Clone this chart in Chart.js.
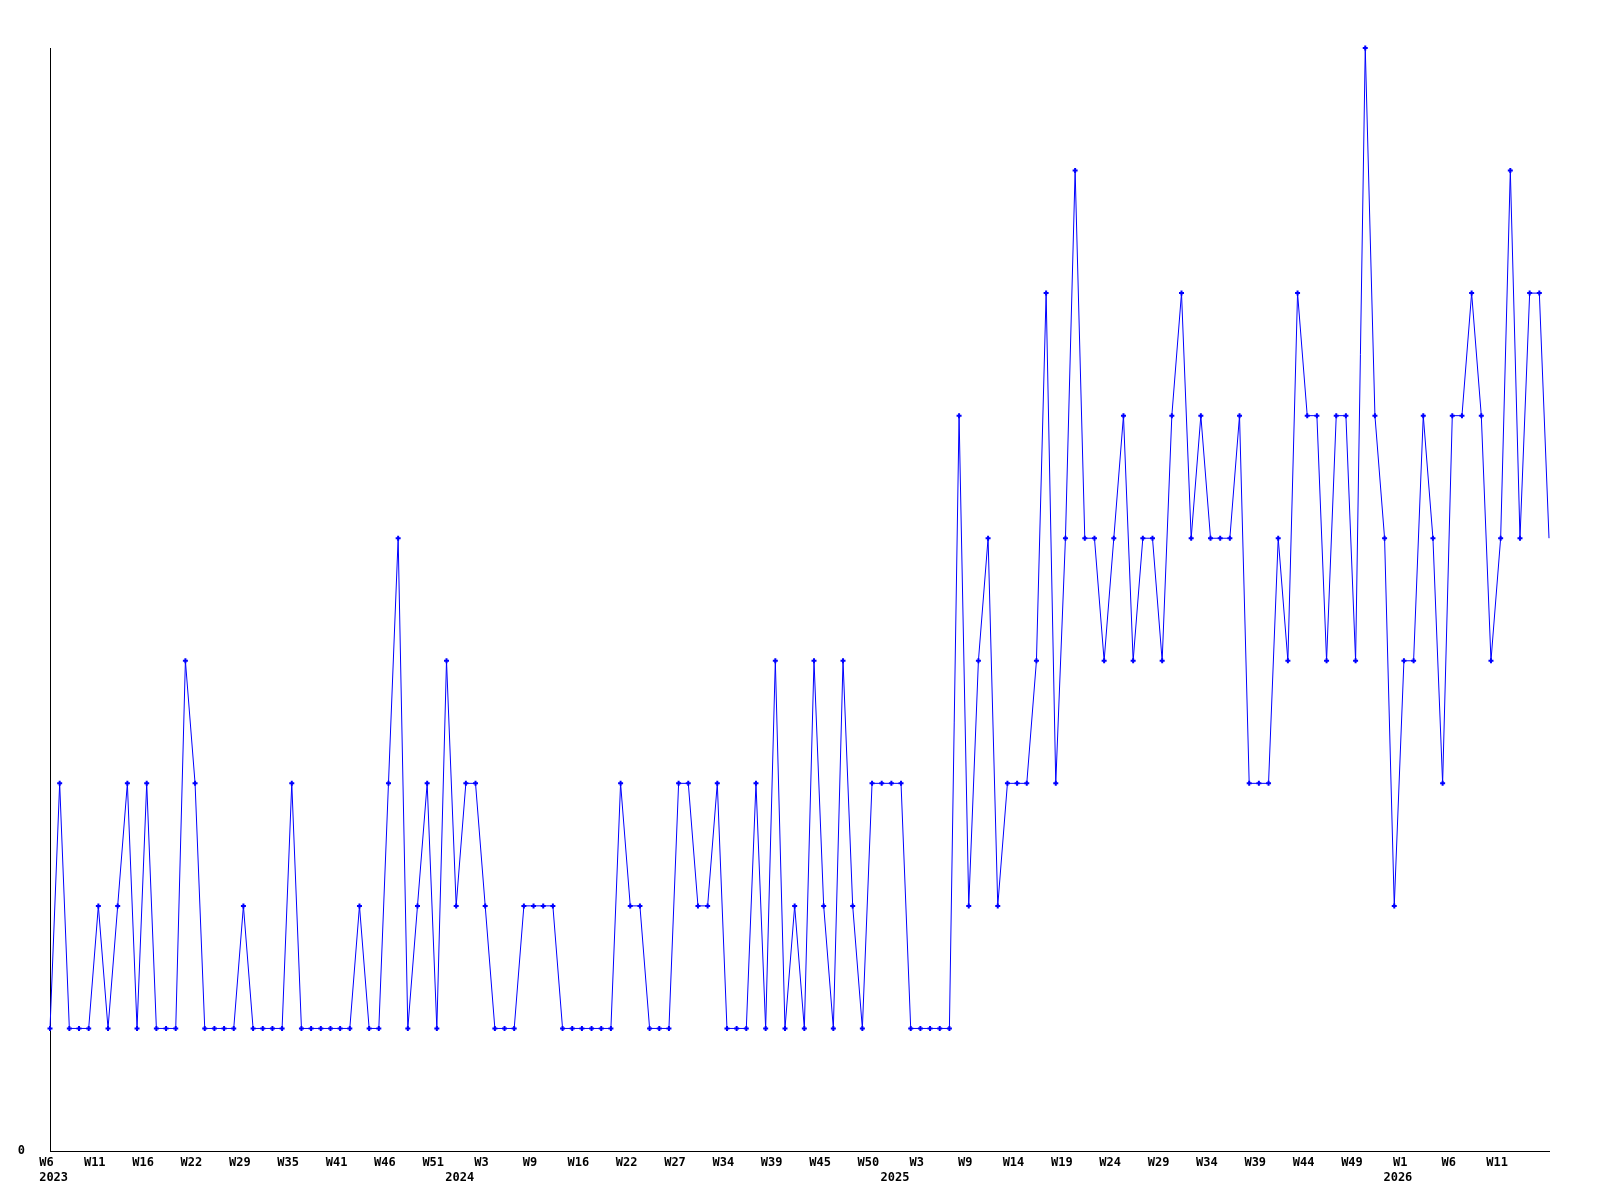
<!DOCTYPE html>
<html>
<head>
<meta charset="utf-8">
<title>weekly counts</title>
<script src="https://cdn.jsdelivr.net/npm/chart.js@4.4.1/dist/chart.umd.min.js"></script>
<style>
  html, body { margin: 0; padding: 0; background: #fff; }
  #dataChart { display: block; }
</style>
</head>
<body>
<canvas id="dataChart" width="1600" height="1200"></canvas>
<script>
// week numbers as they appear on the axis, one list per year (weeks with no data are absent)
const years = [2023, 2024, 2025, 2026];

const weeks2023 = [6, 7, 8, 9, 10, 11, 12, 13, 14, 15, 16, 17, 18, 19, 21, 22, 23, 24, 26, 28, 29,
    30, 31, 32, 34, 35, 36, 37, 38, 40, 41, 42, 43, 44, 45, 46, 47, 48, 49, 50, 51, 52];
const weeks2024 = [0, 1, 2, 3, 4, 5, 6, 8, 9, 10, 11, 13, 14, 16, 17, 18, 19, 21, 22, 23, 24, 25, 26,
    27, 28, 29, 31, 32, 34, 35, 36, 37, 38, 39, 40, 41, 42, 44, 45, 46, 47, 48, 49, 50, 51];
const weeks2025 = [0, 1, 2, 3, 4, 5, 6, 8, 9, 10, 11, 12, 13, 14, 15, 16, 17, 18, 19, 20, 21, 22, 23,
    24, 25, 26, 27, 28, 29, 30, 31, 32, 33, 34, 35, 36, 37, 38, 39, 40, 41, 42, 43, 44, 45, 46, 47,
    48, 49, 50, 51, 52];
const weeks2026 = [0, 1, 2, 3, 4, 5, 6, 7, 8, 9, 10, 11, 12, 13, 14, 15, 16];

// values per week
const counts2023 = [1, 3, 1, 1, 1, 2, 1, 2, 3, 1, 3, 1, 1, 1, 4, 3, 1, 1, 1, 1, 2, 1, 1, 1, 1, 3, 1,
    1, 1, 1, 1, 1, 2, 1, 1, 3, 5, 1, 2, 3, 1, 4];
const counts2024 = [2, 3, 3, 2, 1, 1, 1, 2, 2, 2, 2, 1, 1, 1, 1, 1, 1, 3, 2, 2, 1, 1, 1, 3, 3, 2, 2,
    3, 1, 1, 1, 3, 1, 4, 1, 2, 1, 4, 2, 1, 4, 2, 1, 3, 3];
const counts2025 = [3, 3, 1, 1, 1, 1, 1, 6, 2, 4, 5, 2, 3, 3, 3, 4, 7, 3, 5, 8, 5, 5, 4, 5, 6, 4, 5,
    5, 4, 6, 7, 5, 6, 5, 5, 5, 6, 3, 3, 3, 5, 4, 7, 6, 6, 4, 6, 6, 4, 9, 6, 5];
const counts2026 = [2, 4, 4, 6, 5, 3, 6, 6, 7, 6, 4, 5, 8, 5, 7, 7, 5];

const yMin = 0;
const yMax = 9;
const yTickLabels = ["0"];
const labelEvery = 5;

const buildSeries = () => {
    const weekLists = [weeks2023, weeks2024, weeks2025, weeks2026];
    const countLists = [counts2023, counts2024, counts2025, counts2026];

    let labels = [];
    let weekText = [];
    let yearText = [];
    let values = [];

    for (let y = 0; y < years.length; y++) {
        for (let i = 0; i < weekLists[y].length; i++) {
            labels.push(years[y] + "-W" + weekLists[y][i]);
            weekText.push("W" + weekLists[y][i]);
            yearText.push(i === 0 ? String(years[y]) : "");
            values.push(countLists[y][i]);
        }
    }

    return { labels, weekText, yearText, values };
};

const axisFont = { family: "'DejaVu Sans Mono', monospace", size: 12, weight: "bold", lineHeight: 1.25 };

const setChart = () => {
    const { labels, weekText, yearText, values } = buildSeries();
    const last = values.length - 1;

    const config = {
        type: 'line',
        data: {
            labels: labels,
            datasets: [{
                label: 'count',
                data: values,
                borderColor: '#0000ff',
                backgroundColor: '#0000ff',
                borderWidth: 1,
                tension: 0,
                fill: false,
                clip: false,
                pointStyle: 'cross',
                pointRadius: (ctx) => ctx.dataIndex === last ? 0 : 2.5,
                pointBorderWidth: 2,
                pointBorderColor: '#0000ff',
                pointHoverRadius: 0
            }]
        },
        options: {
            responsive: false,
            animation: false,
            events: [],
            layout: { padding: { top: 48, right: 51, bottom: 0, left: 0 } },
            plugins: {
                legend: { display: false },
                tooltip: { enabled: false },
                title: { display: false }
            },
            scales: {
                x: {
                    type: 'category',
                    offset: false,
                    grid: { display: false, drawTicks: false },
                    border: { display: true, color: '#000000', width: 1 },
                    ticks: {
                        autoSkip: false,
                        maxRotation: 0,
                        minRotation: 0,
                        padding: 4,
                        color: '#000000',
                        font: axisFont,
                        callback: function (value, index) {
                            // week text sits a little left of the point, year text a little right
                            const wk = (index % labelEvery === 0 && index !== last) ? weekText[index] + " " : "";
                            if (yearText[index] !== "") {
                                return [wk, " " + yearText[index]];
                            }
                            return wk;
                        }
                    },
                    afterFit: (scale) => { scale.height = 49; }
                },
                y: {
                    min: yMin,
                    max: yMax,
                    grid: { display: false, drawTicks: false },
                    border: { display: true, color: '#000000', width: 1 },
                    afterBuildTicks: (scale) => {
                        scale.ticks = yTickLabels.map((t) => ({ value: parseFloat(t) }));
                    },
                    ticks: {
                        padding: 25,
                        color: '#000000',
                        font: axisFont,
                        callback: (value) => String(value)
                    },
                    afterFit: (scale) => { scale.width = 50; }
                }
            }
        }
    };

    return new Chart(document.getElementById('dataChart'), config);
};

setChart();
</script>
</body>
</html>
